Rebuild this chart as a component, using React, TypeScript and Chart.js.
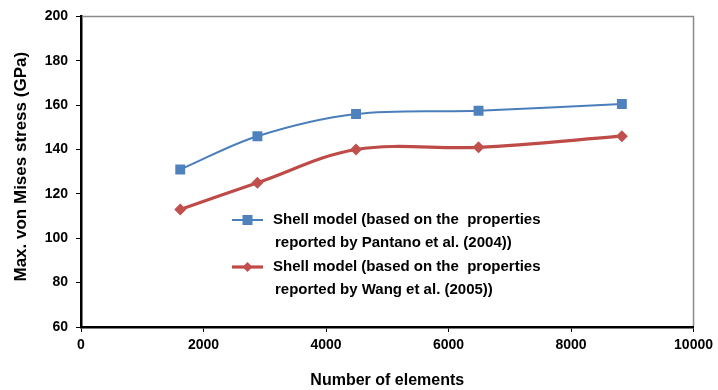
import { useEffect, useRef } from "react";
import { Chart, registerables } from "chart.js";

Chart.register(...registerables);

// Mesh size (number of elements) vs. peak von Mises stress for two shell models
const elementCounts = [1620, 2880, 4490, 6490, 8830];
const stressPantano = [131, 146, 156, 157.5, 160.5];
const stressWang = [113, 125, 140, 141, 146];

const legendPantano = ["Shell model (based on the  properties", "reported by Pantano et al. (2004))"];
const legendWang = ["Shell model (based on the  properties", "reported by Wang et al. (2005))"];

const xTitle = "Number of elements";
const yTitle = "Max. von Mises stress (GPa)";

const FONT = "'Liberation Sans', Arial, Helvetica, sans-serif";
const BLUE_LINE = "#4A7EBB";
const BLUE_FILL = "#4F81BD";
const RED_LINE = "#BE4B48";
const RED_FILL = "#C0504D";

// Light frame on the top and right sides of the plot area
const framePlugin = {
  id: "plotFrame",
  beforeDatasetsDraw(chart: any) {
    const { ctx, chartArea: a } = chart;
    ctx.save();
    ctx.strokeStyle = "#8a8a8a";
    ctx.lineWidth = 1.5;
    ctx.beginPath();
    ctx.moveTo(a.left + 1, a.top);
    ctx.lineTo(a.right, a.top);
    ctx.lineTo(a.right, a.bottom - 1);
    ctx.stroke();
    ctx.restore();
  },
};

// Vertical axis title, set slightly above the plot's midline
const yTitlePlugin = {
  id: "yTitle",
  afterDraw(chart: any) {
    const { ctx, chartArea: a } = chart;
    ctx.save();
    ctx.translate(21, (a.top + a.bottom) / 2 - 5);
    ctx.rotate(-Math.PI / 2);
    ctx.fillStyle = "#000";
    ctx.font = `bold 17px ${FONT}`;
    ctx.textAlign = "center";
    ctx.textBaseline = "middle";
    ctx.fillText(yTitle, 0, 0);
    ctx.restore();
  },
};

// Two-line legend entries placed inside the plot area
const insideLegendPlugin = {
  id: "insideLegend",
  afterDatasetsDraw(chart: any) {
    const { ctx } = chart;
    const entries = [
      { ds: chart.data.datasets[0], lines: legendPantano, y: 220 },
      { ds: chart.data.datasets[1], lines: legendWang, y: 267 },
    ];
    const x0 = 232;
    const x1 = 263;
    const xm = (x0 + x1) / 2;
    ctx.save();
    entries.forEach(({ ds, lines, y }) => {
      ctx.strokeStyle = ds.borderColor;
      ctx.lineWidth = ds.borderWidth;
      ctx.beginPath();
      ctx.moveTo(x0, y);
      ctx.lineTo(x1, y);
      ctx.stroke();
      ctx.fillStyle = ds.pointBackgroundColor;
      ctx.beginPath();
      if (ds.pointStyle === "rect") {
        ctx.rect(xm - 5, y - 5, 10, 10);
      } else {
        const r = 5;
        ctx.moveTo(xm - r, y);
        ctx.lineTo(xm, y - r);
        ctx.lineTo(xm + r, y);
        ctx.lineTo(xm, y + r);
        ctx.closePath();
      }
      ctx.fill();
      ctx.fillStyle = "#000";
      ctx.font = `bold 15px ${FONT}`;
      ctx.textBaseline = "middle";
      ctx.textAlign = "left";
      ctx.fillText(lines[0], 273, y);
      ctx.fillText(lines[1], 275, y + 23);
    });
    ctx.restore();
  },
};

export default function App() {
  const canvasRef = useRef<HTMLCanvasElement | null>(null);

  useEffect(() => {
    if (!canvasRef.current) return;
    const chart = new Chart(canvasRef.current, {
      type: "line",
      data: {
        datasets: [
          {
            label: legendPantano.join(" "),
            data: elementCounts.map((x, i) => ({ x, y: stressPantano[i] })),
            borderColor: BLUE_LINE,
            backgroundColor: BLUE_FILL,
            pointBackgroundColor: BLUE_FILL,
            pointBorderColor: BLUE_FILL,
            borderWidth: 2,
            pointStyle: "rect",
            pointRadius: 7,
            pointBorderWidth: 0,
            tension: 0.35,
          },
          {
            label: legendWang.join(" "),
            data: elementCounts.map((x, i) => ({ x, y: stressWang[i] })),
            borderColor: RED_LINE,
            backgroundColor: RED_FILL,
            pointBackgroundColor: RED_FILL,
            pointBorderColor: RED_FILL,
            borderWidth: 3.2,
            pointStyle: "rectRot",
            pointRadius: 6,
            pointBorderWidth: 0,
            tension: 0.35,
          },
        ],
      },
      options: {
        responsive: true,
        maintainAspectRatio: false,
        animation: false,
        layout: { padding: { left: 0, top: 16, right: 23, bottom: 0 } },
        plugins: {
          legend: { display: false },
          tooltip: { enabled: false },
        },
        scales: {
          x: {
            type: "linear",
            min: 0,
            max: 10000,
            afterFit(scale: any) {
              scale.height = 63;
            },
            ticks: {
              stepSize: 2000,
              color: "#000",
              padding: 5,
              maxRotation: 0,
              font: { family: FONT, size: 14, weight: "bold" },
              callback: (v: any) => String(v),
            },
            grid: {
              drawOnChartArea: false,
              drawTicks: true,
              tickLength: 5,
              color: "#000",
              lineWidth: 1,
            },
            border: { display: true, color: "#000", width: 2.5 },
            title: {
              display: true,
              text: xTitle,
              color: "#000",
              padding: { top: 0, bottom: 0 },
              font: { family: FONT, size: 16, weight: "bold" },
            },
          },
          y: {
            type: "linear",
            min: 60,
            max: 200,
            afterFit(scale: any) {
              scale.width = 81;
            },
            ticks: {
              stepSize: 20,
              color: "#000",
              padding: 8,
              font: { family: FONT, size: 14, weight: "bold" },
            },
            grid: {
              drawOnChartArea: false,
              drawTicks: true,
              tickLength: 5,
              color: "#000",
              lineWidth: 1,
            },
            border: { display: true, color: "#000", width: 2.5 },
          },
        },
      },
      plugins: [framePlugin, insideLegendPlugin, yTitlePlugin],
    });
    return () => chart.destroy();
  }, []);

  return (
    <div
      style={{
        position: "fixed",
        left: 0,
        top: 0,
        width: 718,
        height: 390,
        background: "#fff",
      }}
    >
      <canvas ref={canvasRef} />
    </div>
  );
}
